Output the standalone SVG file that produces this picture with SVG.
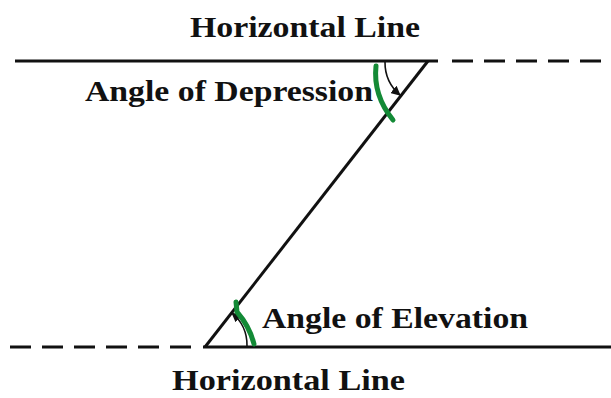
<svg xmlns="http://www.w3.org/2000/svg" width="611" height="398" viewBox="0 0 611 398">
<style>
.t{font-family:'Liberation Serif', Tinos, 'Times New Roman', Times, serif;font-weight:700;font-size:30px;fill:#111}
.ln{stroke:#111;stroke-width:3;fill:none}
.dash{stroke:#111;stroke-width:3;fill:none;stroke-dasharray:21 11}
.arc{stroke:#111;stroke-width:1.6;fill:none}
.mark{stroke:#138a36;stroke-width:5;fill:none;stroke-linecap:round}
</style>
<defs>
<marker id="ah" viewBox="0 0 10 10" refX="9" refY="5" markerWidth="6" markerHeight="6" orient="auto">
<path d="M0,0 L10,5 L0,10 z" fill="#111"/>
</marker>
</defs>
<rect width="611" height="398" fill="#fff"/>
<g id="connectors">
<line class="ln" x1="15" y1="61" x2="438" y2="61"/>
<line class="dash" x1="452" y1="61" x2="605" y2="61"/>
<line class="ln" x1="428" y1="61" x2="205" y2="347"/>
<line class="ln" x1="203" y1="347" x2="611" y2="347"/>
<line class="dash" x1="10" y1="347" x2="196" y2="347"/>
<path class="arc" d="M385,62 A43,43 0 0 0 400,95" marker-end="url(#ah)"/>
<path class="arc" d="M247,346 A42,42 0 0 0 232,313" marker-end="url(#ah)"/>
</g>
<g id="top-label"><text class="t" x="190" y="37" textLength="230" lengthAdjust="spacingAndGlyphs">Horizontal Line</text></g>
<g id="depression-label"><text class="t" x="85" y="101" textLength="288" lengthAdjust="spacingAndGlyphs">Angle of Depression</text></g>
<g id="elevation-label"><text class="t" x="262" y="328" textLength="266" lengthAdjust="spacingAndGlyphs">Angle of Elevation</text></g>
<g id="bottom-label"><text class="t" x="172" y="390" font-size="28" textLength="233" lengthAdjust="spacingAndGlyphs">Horizontal Line</text></g>
<g id="marks">
<path class="mark" d="M376,66 C374,85 380,104 393,120"/>
<path class="mark" d="M236,302 L237,312 C244,320 251,332 254,344"/>
</g>
</svg>
